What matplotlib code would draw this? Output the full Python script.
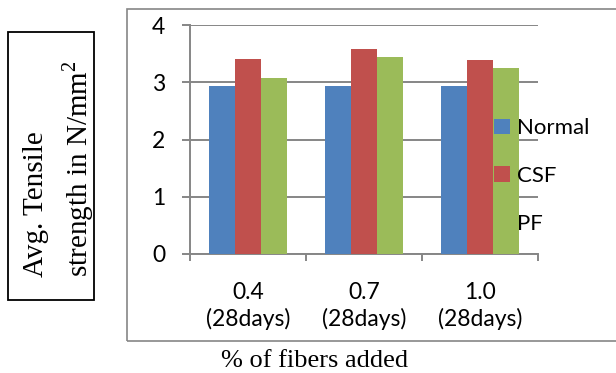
import matplotlib.pyplot as plt
from matplotlib.patches import Rectangle
import numpy as np

categories = ["0.4\n(28days)", "0.7\n(28days)", "1.0\n(28days)"]
series = ["Normal", "CSF", "PF"]
normal = [2.93, 2.93, 2.93]
csf = [3.41, 3.58, 3.38]
pf = [3.07, 3.44, 3.25]
colors = ["#4F81BD", "#C0504D", "#9BBB59"]

plt.rcParams["mathtext.fontset"] = "custom"
plt.rcParams["mathtext.rm"] = "Liberation Serif"

W, H = 616, 373
fig = plt.figure(figsize=(W / 100, H / 100), dpi=100)
ax = fig.add_axes([190 / W, 1 - 254 / H, 348 / W, 229 / H])

grey = "#868686"
x = np.arange(len(categories)) + 0.5
width = 1 / 4.5
for i, (name, vals) in enumerate(zip(series, [normal, csf, pf])):
    ax.bar(x + (i - 1) * width, vals, width, color=colors[i], label=name, zorder=3)

ax.set_xlim(0, 3)
ax.set_ylim(0, 4)
ax.set_yticks([0, 1, 2, 3, 4])
ax.set_xticks([0, 1, 2, 3])
ax.set_xticklabels([])
ax.set_xticks(x, minor=True)
ax.set_xticklabels(categories, minor=True, fontfamily="Lato", fontsize=16.5,
                   linespacing=1.3)
ax.tick_params(axis="x", which="major", length=5, width=1.4, color=grey, direction="out")
ax.tick_params(axis="x", which="minor", length=0, pad=20)
ax.tick_params(axis="y", length=5.8, width=1.4, color=grey, pad=12, labelsize=16.5)
for lbl in ax.get_yticklabels():
    lbl.set_fontfamily("Lato")
ax.grid(axis="y", color=grey, linewidth=1.4, zorder=0)
for s in ["top", "right"]:
    ax.spines[s].set_visible(False)
for s in ["left", "bottom"]:
    ax.spines[s].set_color(grey)
    ax.spines[s].set_linewidth(1.4)

ax.legend(loc="upper left", bbox_to_anchor=(483 / W, 1 - 107 / H),
          bbox_transform=fig.transFigure, frameon=False, borderpad=0,
          handlelength=0.7, handleheight=0.7, handletextpad=0.35,
          labelspacing=1.25, prop={"family": "Lato", "size": 16})

# outer chart frame
fig.patches.append(Rectangle((127 / W, 1 - 341 / H), 1, 332 / H,
                             transform=fig.transFigure, fill=False,
                             edgecolor=grey, linewidth=1.2))
# boxed y label
fig.patches.append(Rectangle((8 / W, 1 - 300 / H), 86 / W, 268 / H,
                             transform=fig.transFigure, fill=False,
                             edgecolor="black", linewidth=1.3))
fig.text(36.5 / W, 1 - 277 / H, "Avg. Tensile", rotation=90, ha="center", va="bottom",
         fontfamily="Liberation Serif", fontsize=21)
fig.text(78 / W, 1 - 277 / H, r"strength in N/mm$^2$", rotation=90, ha="center",
         va="bottom", fontfamily="Liberation Serif", fontsize=21)
fig.text(315 / W, 1 - 367 / H, "% of fibers added", ha="center", va="baseline",
         fontfamily="Liberation Serif", fontsize=19)

fig.savefig("out.png", dpi=100)
